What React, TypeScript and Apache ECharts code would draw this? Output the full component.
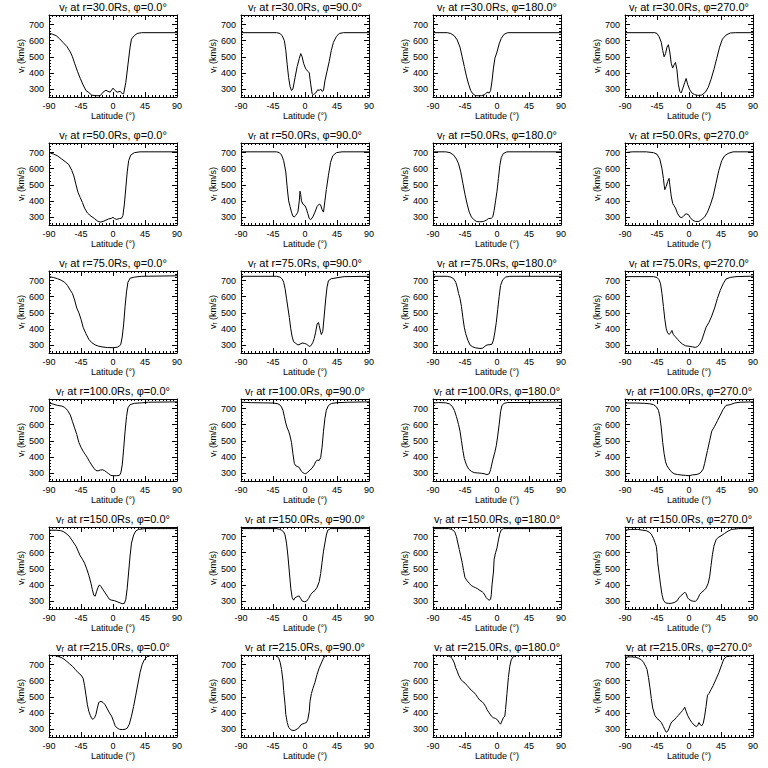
import React, { useEffect, useRef } from "react";
import * as echarts from "echarts";

const radii = ["30.0", "50.0", "75.0", "100.0", "150.0", "215.0"];
const phis = ["0.0", "90.0", "180.0", "270.0"];

// [latitude (deg), v_r (km/s)]
const r30phi0 = [[-90,648],[-85,640],[-80,632],[-75,612],[-70,588],[-65,565],[-60,530],[-57,500],[-54,460],[-50,410],[-46,365],[-42,325],[-38,290],[-34,278],[-30,262],[-25,258],[-18,258],[-14,280],[-10,292],[-7,285],[-4,280],[0,305],[3,290],[6,280],[10,285],[13,272],[15,270],[18,340],[21,450],[24,560],[26,610],[30,632],[34,645],[40,650],[90,650]];
const r30phi90 = [[-90,650],[-40,650],[-35,645],[-32,630],[-29,600],[-27,540],[-25,450],[-23,370],[-21,315],[-19,290],[-17,300],[-14,370],[-11,440],[-8,490],[-6,520],[-4,500],[-2,460],[1,425],[4,410],[6,400],[8,330],[10,270],[12,265],[15,275],[18,295],[20,290],[22,300],[24,285],[26,290],[28,350],[31,410],[34,470],[37,540],[40,590],[44,625],[48,645],[54,650],[90,650]];
const r30phi180 = [[-90,650],[-70,650],[-65,645],[-60,630],[-56,605],[-52,560],[-49,500],[-46,440],[-43,380],[-40,330],[-37,290],[-34,270],[-30,258],[-22,258],[-17,265],[-14,280],[-11,275],[-9,290],[-7,350],[-5,430],[-3,490],[0,530],[3,580],[6,615],[10,640],[15,650],[90,650]];
const r30phi270 = [[-90,650],[-48,650],[-45,645],[-42,625],[-39,590],[-37,540],[-35,500],[-33,520],[-31,560],[-29,575],[-27,530],[-25,460],[-23,430],[-21,450],[-19,465],[-17,420],[-15,330],[-13,285],[-11,275],[-9,300],[-6,340],[-4,365],[-2,330],[1,295],[4,275],[8,265],[12,260],[18,262],[23,280],[27,310],[31,360],[35,420],[39,490],[43,560],[47,610],[52,635],[58,648],[65,650],[90,650]];

const r50phi0 = [[-90,700],[-84,692],[-78,680],[-72,660],[-66,640],[-62,625],[-58,590],[-55,555],[-52,500],[-49,450],[-46,420],[-43,390],[-40,355],[-36,325],[-31,305],[-26,290],[-22,275],[-18,268],[-14,272],[-10,280],[-6,288],[-2,292],[0,298],[2,290],[5,285],[9,290],[12,292],[14,310],[16,380],[18,480],[20,580],[22,650],[25,685],[30,700],[38,705],[90,705]];
const r50phi90 = [[-90,705],[-40,705],[-36,700],[-33,685],[-30,650],[-27,580],[-25,480],[-23,400],[-21,365],[-19,330],[-17,305],[-15,300],[-13,310],[-10,330],[-8,400],[-7,460],[-6,440],[-5,400],[-3,380],[0,370],[2,350],[4,320],[6,290],[8,283],[11,300],[14,330],[17,365],[20,380],[22,375],[24,345],[26,330],[28,400],[30,470],[33,560],[36,640],[39,680],[44,700],[52,705],[90,705]];
const r50phi180 = [[-90,705],[-72,705],[-66,700],[-61,685],[-57,660],[-54,630],[-51,580],[-48,510],[-45,440],[-42,380],[-39,330],[-36,300],[-33,285],[-29,272],[-24,270],[-19,272],[-15,280],[-12,290],[-8,292],[-6,300],[-4,340],[-2,400],[0,460],[2,540],[4,620],[6,670],[9,695],[14,705],[90,705]];
const r50phi270 = [[-90,700],[-80,705],[-70,705],[-60,705],[-50,700],[-45,690],[-41,660],[-38,600],[-36,540],[-35,500],[-34,470],[-32,490],[-30,520],[-28,540],[-27,500],[-25,430],[-23,385],[-21,370],[-19,355],[-16,320],[-13,300],[-10,295],[-7,310],[-4,320],[-1,315],[2,295],[5,280],[9,272],[14,272],[18,285],[22,300],[26,330],[30,375],[34,430],[38,510],[42,590],[46,650],[50,680],[55,695],[62,705],[90,705]];

const r75phi0 = [[-90,725],[-84,720],[-78,712],[-73,703],[-68,690],[-64,670],[-60,640],[-57,620],[-54,580],[-51,530],[-48,500],[-45,460],[-42,410],[-38,370],[-34,335],[-30,315],[-25,300],[-20,292],[-14,287],[-8,284],[0,283],[6,286],[9,293],[11,305],[13,350],[15,430],[17,540],[19,630],[21,690],[24,715],[30,722],[40,727],[90,730]];
const r75phi90 = [[-90,727],[-40,727],[-35,722],[-32,710],[-30,690],[-28,650],[-26,590],[-24,530],[-22,470],[-20,400],[-18,350],[-16,320],[-13,310],[-10,300],[-7,305],[-4,312],[-1,310],[2,305],[5,295],[7,290],[9,300],[11,315],[13,340],[15,380],[17,430],[19,440],[20,420],[22,380],[23,365],[25,385],[27,480],[29,580],[31,660],[33,700],[37,712],[45,718],[55,725],[90,727]];
const r75phi180 = [[-90,727],[-70,727],[-65,722],[-61,712],[-58,690],[-56,660],[-54,620],[-52,590],[-50,540],[-48,470],[-46,410],[-44,370],[-41,330],[-38,300],[-34,288],[-30,282],[-24,278],[-20,280],[-17,292],[-14,300],[-10,302],[-7,305],[-5,330],[-3,380],[-1,440],[1,520],[3,600],[5,670],[8,705],[12,722],[18,727],[90,727]];
const r75phi270 = [[-90,725],[-50,725],[-45,720],[-42,705],[-40,680],[-38,620],[-36,540],[-34,460],[-32,400],[-30,375],[-28,365],[-26,375],[-24,390],[-22,365],[-19,350],[-16,335],[-13,320],[-9,305],[-5,295],[0,292],[5,288],[9,285],[12,290],[15,305],[18,330],[21,370],[24,410],[28,440],[32,480],[36,530],[40,590],[44,640],[48,680],[52,710],[58,720],[66,725],[90,728]];

const r100phi0 = [[-90,735],[-84,728],[-78,720],[-72,716],[-68,708],[-64,690],[-60,660],[-57,620],[-54,580],[-51,540],[-48,490],[-45,460],[-42,435],[-39,415],[-36,395],[-33,370],[-30,350],[-27,330],[-24,315],[-21,313],[-18,318],[-15,320],[-12,315],[-9,305],[-6,295],[-3,285],[0,283],[5,283],[9,285],[11,300],[13,350],[15,450],[17,560],[19,650],[21,705],[24,725],[30,733],[40,736],[50,740],[90,742]];
const r100phi90 = [[-90,740],[-75,737],[-60,736],[-45,735],[-38,730],[-35,722],[-33,710],[-31,690],[-29,650],[-27,610],[-25,580],[-23,560],[-21,530],[-19,490],[-17,420],[-15,360],[-13,345],[-11,340],[-9,338],[-7,325],[-5,310],[-3,302],[-1,297],[1,295],[4,305],[7,318],[10,330],[13,350],[15,370],[17,380],[20,378],[22,395],[24,460],[26,560],[28,640],[30,690],[33,720],[37,732],[45,737],[60,740],[90,742]];
const r100phi180 = [[-90,735],[-82,738],[-72,736],[-67,730],[-63,715],[-60,690],[-57,650],[-54,600],[-52,560],[-50,500],[-48,440],[-46,390],[-43,350],[-40,325],[-36,310],[-32,302],[-27,300],[-22,298],[-18,295],[-14,290],[-11,295],[-9,320],[-6,380],[-3,430],[-1,470],[1,530],[3,600],[5,680],[7,720],[10,733],[15,738],[90,740]];
const r100phi270 = [[-90,735],[-75,735],[-62,733],[-55,730],[-50,725],[-46,712],[-43,690],[-41,650],[-39,580],[-37,490],[-35,420],[-33,370],[-31,345],[-28,325],[-25,308],[-21,295],[-16,290],[-10,287],[-5,285],[0,283],[5,288],[10,290],[14,295],[17,305],[20,325],[22,360],[24,400],[26,440],[29,500],[32,560],[36,590],[40,625],[44,660],[48,695],[52,720],[58,725],[64,735],[72,740],[90,742]];

const r150phi0 = [[-90,740],[-80,740],[-74,738],[-70,732],[-66,720],[-62,705],[-58,680],[-55,660],[-52,640],[-49,610],[-46,580],[-43,560],[-40,535],[-37,500],[-34,460],[-31,410],[-29,370],[-27,335],[-25,330],[-23,360],[-21,385],[-19,400],[-17,390],[-14,370],[-11,350],[-8,330],[-5,310],[-2,305],[2,302],[6,295],[10,288],[13,283],[16,285],[18,310],[20,380],[22,480],[24,580],[26,660],[29,710],[32,735],[36,745],[45,750],[90,750]];
const r150phi90 = [[-90,750],[-40,750],[-36,746],[-33,740],[-30,730],[-28,710],[-26,660],[-24,580],[-22,480],[-20,380],[-18,320],[-16,305],[-14,320],[-12,325],[-10,330],[-8,330],[-6,315],[-4,300],[-1,295],[2,298],[5,315],[8,340],[11,355],[14,365],[17,385],[20,420],[22,470],[24,540],[26,610],[28,660],[30,710],[32,740],[36,750],[90,750]];
const r150phi180 = [[-90,750],[-68,750],[-64,745],[-61,738],[-59,725],[-57,700],[-55,660],[-53,620],[-51,580],[-49,540],[-47,490],[-45,445],[-42,425],[-39,410],[-36,395],[-33,388],[-30,382],[-27,375],[-24,365],[-21,358],[-19,350],[-17,335],[-15,320],[-13,310],[-11,305],[-9,310],[-8,340],[-7,400],[-5,480],[-4,560],[-2,600],[0,630],[2,680],[4,720],[6,742],[9,750],[90,750]];
const r150phi270 = [[-90,740],[-82,745],[-72,745],[-65,740],[-60,737],[-56,728],[-53,715],[-50,690],[-48,665],[-46,640],[-45,600],[-44,540],[-42,470],[-40,400],[-38,340],[-36,305],[-33,288],[-29,285],[-25,285],[-21,290],[-17,300],[-14,320],[-11,335],[-8,345],[-6,355],[-4,345],[-2,320],[0,310],[3,302],[6,298],[9,298],[11,305],[13,320],[15,340],[18,355],[21,365],[24,380],[27,410],[29,450],[31,520],[33,590],[35,640],[38,680],[41,695],[45,705],[50,720],[55,735],[60,745],[70,750],[90,750]];

const r215phi0 = [[-90,757],[-82,757],[-78,752],[-73,745],[-69,735],[-65,720],[-61,705],[-57,690],[-53,670],[-49,650],[-45,635],[-42,615],[-40,570],[-38,510],[-36,450],[-34,410],[-32,385],[-30,365],[-28,360],[-26,370],[-24,390],[-22,430],[-20,465],[-17,472],[-14,465],[-11,450],[-8,425],[-5,400],[-2,380],[1,345],[3,320],[6,305],[9,298],[13,296],[17,298],[20,305],[23,330],[26,380],[29,440],[32,510],[35,580],[38,650],[41,700],[44,730],[48,750],[53,757],[90,757]];
const r215phi90 = [[-90,757],[-42,757],[-39,752],[-37,740],[-35,715],[-33,670],[-31,600],[-30,540],[-28,450],[-27,390],[-25,340],[-23,310],[-20,295],[-17,290],[-14,292],[-11,300],[-8,310],[-6,325],[-4,330],[-1,335],[2,340],[4,360],[6,410],[7,470],[9,520],[11,550],[14,590],[17,640],[20,680],[23,710],[26,740],[29,757],[90,757]];
const r215phi180 = [[-90,757],[-70,757],[-66,750],[-63,738],[-60,710],[-58,680],[-56,660],[-54,635],[-51,610],[-48,595],[-45,585],[-42,570],[-39,555],[-36,540],[-33,530],[-30,515],[-27,495],[-24,478],[-21,470],[-19,460],[-16,440],[-14,420],[-11,400],[-8,380],[-5,370],[-2,365],[1,355],[3,340],[5,330],[7,350],[9,370],[11,380],[12,420],[14,520],[16,620],[18,690],[20,730],[23,750],[27,757],[90,757]];
const r215phi270 = [[-90,745],[-85,748],[-80,748],[-75,745],[-71,740],[-67,730],[-64,715],[-61,690],[-59,670],[-57,620],[-55,560],[-53,490],[-51,430],[-48,385],[-45,365],[-42,355],[-39,340],[-36,315],[-34,295],[-32,280],[-30,285],[-28,305],[-26,330],[-24,345],[-21,355],[-18,370],[-15,385],[-12,400],[-9,415],[-6,435],[-4,410],[-2,385],[1,360],[4,340],[7,325],[10,315],[12,320],[14,340],[16,325],[18,320],[20,335],[22,380],[24,440],[26,510],[28,520],[31,545],[34,570],[38,610],[42,650],[46,700],[49,735],[53,750],[60,755],[70,757],[90,757]];

const panels = [
  [r30phi0, r30phi90, r30phi180, r30phi270],
  [r50phi0, r50phi90, r50phi180, r50phi270],
  [r75phi0, r75phi90, r75phi180, r75phi270],
  [r100phi0, r100phi90, r100phi180, r100phi270],
  [r150phi0, r150phi90, r150phi180, r150phi270],
  [r215phi0, r215phi90, r215phi180, r215phi270],
];

const FONT = "'Liberation Sans', 'DejaVu Sans', sans-serif";
const COL_W = 192;
const ROW_H = 128;
const PLOT_L = 49;
const PLOT_T = 15;
const PLOT_W = 128;
const PLOT_H = 82;

function buildOption() {
  const grids: any[] = [];
  const xAxes: any[] = [];
  const yAxes: any[] = [];
  const series: any[] = [];
  const titles: any[] = [];
  const black = "#000";
  radii.forEach((r, ri) => {
    phis.forEach((p, ci) => {
      const idx = ri * 4 + ci;
      const left = ci * COL_W + PLOT_L;
      const top = ri * ROW_H + PLOT_T;
      grids.push({ left, top, width: PLOT_W, height: PLOT_H, containLabel: false });
      titles.push({
        text: `vᵣ at r=${r}Rs, φ=${p}°`,
        left: left + PLOT_W / 2,
        top: ri * ROW_H + 1,
        padding: 0,
        textAlign: "center",
        textStyle: { fontSize: 11, fontWeight: "normal", color: black, fontFamily: FONT },
      });
      const xBase = {
        gridIndex: idx,
        type: "value",
        min: -90,
        max: 90,
        interval: 45,
        axisLine: { show: true, onZero: false, lineStyle: { color: black, width: 1 } },
        axisTick: { show: true, inside: true, length: 5, lineStyle: { color: black, width: 1 } },
        minorTick: { show: true, splitNumber: 9, length: 2, lineStyle: { color: black, width: 1 } },
        splitLine: { show: false },
      };
      xAxes.push({
        ...xBase,
        position: "bottom",
        axisLabel: { color: black, fontSize: 9, fontFamily: FONT, margin: 4, formatter: (v: number) => String(v) },
        name: "Latitude (°)",
        nameLocation: "middle",
        nameGap: 14,
        nameTextStyle: { color: black, fontSize: 9, fontFamily: FONT },
      });
      xAxes.push({ ...xBase, position: "top", axisLabel: { show: false } });
      const yBase = {
        gridIndex: idx,
        type: "value",
        min: 250,
        max: 760,
        splitNumber: 5,
        axisLine: { show: true, onZero: false, lineStyle: { color: black, width: 1 } },
        axisTick: { show: true, inside: true, length: 5, lineStyle: { color: black, width: 1 } },
        minorTick: { show: true, splitNumber: 5, length: 2, lineStyle: { color: black, width: 1 } },
        splitLine: { show: false },
      };
      yAxes.push({
        ...yBase,
        position: "left",
        axisLabel: {
          color: black,
          fontSize: 9,
          fontFamily: FONT,
          margin: 5,
          showMinLabel: false,
          showMaxLabel: false,
          formatter: (v: number) => (v % 100 === 0 ? String(v) : ""),
        },
        name: "vᵣ (km/s)",
        nameLocation: "middle",
        nameGap: 24,
        nameTextStyle: { color: black, fontSize: 9, fontFamily: FONT },
      });
      yAxes.push({ ...yBase, position: "right", axisLabel: { show: false } });
      series.push({
        type: "line",
        xAxisIndex: idx * 2,
        yAxisIndex: idx * 2,
        data: panels[ri][ci],
        showSymbol: false,
        symbol: "none",
        clip: true,
        lineStyle: { color: black, width: 1 },
      });
    });
  });
  return {
    animation: false,
    backgroundColor: "#fff",
    title: titles,
    grid: grids,
    xAxis: xAxes,
    yAxis: yAxes,
    series,
  };
}

export default function App() {
  const ref = useRef<HTMLDivElement>(null);
  useEffect(() => {
    if (!ref.current) return;
    const chart = echarts.init(ref.current, undefined, { renderer: "svg" });
    chart.setOption(buildOption() as any);
    return () => chart.dispose();
  }, []);
  return (
    <div
      ref={ref}
      style={{ position: "absolute", left: 0, top: 0, width: 768, height: 768, background: "#fff" }}
    />
  );
}
